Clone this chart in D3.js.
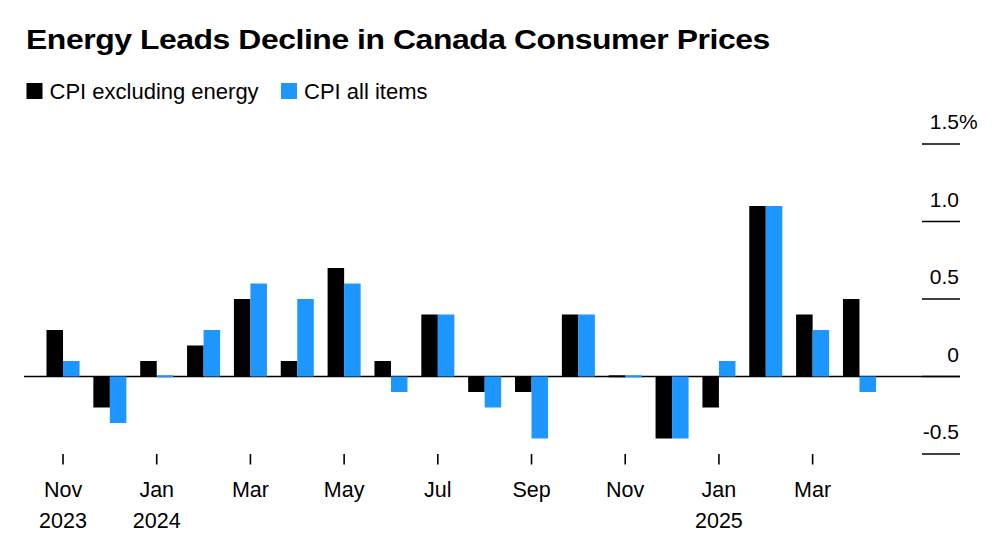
<!DOCTYPE html>
<html>
<head>
<meta charset="utf-8">
<script src="https://cdn.jsdelivr.net/npm/d3@7"></script>
<style>
  html, body { margin: 0; padding: 0; background: #fff; }
  svg { display: block; font-family: "Liberation Sans", Arial, sans-serif; }
</style>
</head>
<body>
<svg id="chart" width="1000" height="545"></svg>
<script>
// ---- Data ----
const months = ["Nov 2023","Dec 2023","Jan 2024","Feb 2024","Mar 2024","Apr 2024","May 2024","Jun 2024",
  "Jul 2024","Aug 2024","Sep 2024","Oct 2024","Nov 2024","Dec 2024","Jan 2025","Feb 2025","Mar 2025","Apr 2025"];
const exEnergy = [0.3, -0.2, 0.1, 0.2, 0.5, 0.1, 0.7, 0.1, 0.4, -0.1, -0.1, 0.4, 0.0, -0.4, -0.2, 1.1, 0.4, 0.5];
const allItems = [0.1, -0.3, 0.0, 0.3, 0.6, 0.5, 0.6, -0.1, 0.4, -0.2, -0.4, 0.4, 0.0, -0.4, 0.1, 1.1, 0.3, -0.1];
const seriesNames = ["CPI excluding energy", "CPI all items"];
const seriesColors = ["#000000", "#1e96ff"];
const yTicks = [-0.5, 0, 0.5, 1.0, 1.5];
const yTickLabels = ["-0.5", "0", "0.5", "1.0", "1.5"];
const xTickLabels = {
  "Nov 2023": ["Nov", "2023"], "Jan 2024": ["Jan", "2024"], "Mar 2024": ["Mar"], "May 2024": ["May"],
  "Jul 2024": ["Jul"], "Sep 2024": ["Sep"], "Nov 2024": ["Nov"], "Jan 2025": ["Jan", "2025"], "Mar 2025": ["Mar"]
};
const title = "Energy Leads Decline in Canada Consumer Prices";

// ---- Layout ----
const svg = d3.select("#chart");
const x = d3.scaleBand().domain(months).range([39.6, 882.9]).paddingInner(0.295).paddingOuter(0.1475);
const xSub = d3.scaleBand().domain([0, 1]).range([0, x.bandwidth()]);
const y = d3.scaleLinear().domain([-0.5, 1.5]).range([454, 144]);

// Title (horizontally fitted to the reference width)
const titleX = 26, titleW = 744;
const t = svg.append("text")
  .attr("x", 0).attr("y", 0)
  .attr("font-size", 28.5).attr("font-weight", "bold").attr("fill", "#000")
  .attr("letter-spacing", -0.4)
  .text(title);
const natural = t.node().getComputedTextLength();
t.attr("transform", `translate(${titleX},49) scale(${titleW / natural},1)`);

// Legend
const legendX = [26.5, 281];
seriesNames.forEach((name, i) => {
  svg.append("rect").attr("x", legendX[i]).attr("y", 83).attr("width", 16).attr("height", 16)
    .attr("fill", seriesColors[i]);
  svg.append("text").attr("x", legendX[i] + 23).attr("y", 99)
    .attr("font-size", 22).attr("fill", "#000").text(name);
});

// Y axis (right side, short tick lines with labels above)
const yAxisG = svg.append("g");
yTicks.forEach((v, i) => {
  yAxisG.append("line").attr("x1", 922).attr("x2", 960).attr("y1", y(v)).attr("y2", y(v))
    .attr("stroke", "#000").attr("stroke-width", 1.6);
  yAxisG.append("text").attr("x", 959).attr("y", y(v) - 15)
    .attr("text-anchor", "end").attr("font-size", 21).attr("fill", "#000").text(yTickLabels[i]);
  if (i === yTicks.length - 1) {
    yAxisG.append("text").attr("x", 959).attr("y", y(v) - 15)
      .attr("font-size", 21).attr("fill", "#000").text("%");
  }
});

// Zero baseline
svg.append("line").attr("x1", 24).attr("x2", 960).attr("y1", y(0)).attr("y2", y(0))
  .attr("stroke", "#000").attr("stroke-width", 1.6);

// Bars
const data = [exEnergy, allItems];
data.forEach((vals, si) => {
  svg.append("g").selectAll("rect").data(months).join("rect")
    .attr("x", (m) => x(m) + xSub(si))
    .attr("width", xSub.bandwidth())
    .attr("y", (m, i) => vals[i] === 0 ? y(0) - 1.2 : Math.min(y(0), y(vals[i])))
    .attr("height", (m, i) => vals[i] === 0 ? 2 : Math.abs(y(vals[i]) - y(0)))
    .attr("fill", seriesColors[si]);
});

// X axis ticks and labels
const xAxisG = svg.append("g");
Object.keys(xTickLabels).forEach(m => {
  const cx = x(m) + x.bandwidth() / 2;
  xAxisG.append("line").attr("x1", cx).attr("x2", cx).attr("y1", 454).attr("y2", 464.5)
    .attr("stroke", "#000").attr("stroke-width", 1.6);
  xTickLabels[m].forEach((line, li) => {
    xAxisG.append("text").attr("x", cx).attr("y", 497 + li * 30.5)
      .attr("text-anchor", "middle").attr("font-size", 21.5).attr("fill", "#000").text(line);
  });
});
</script>
</body>
</html>
